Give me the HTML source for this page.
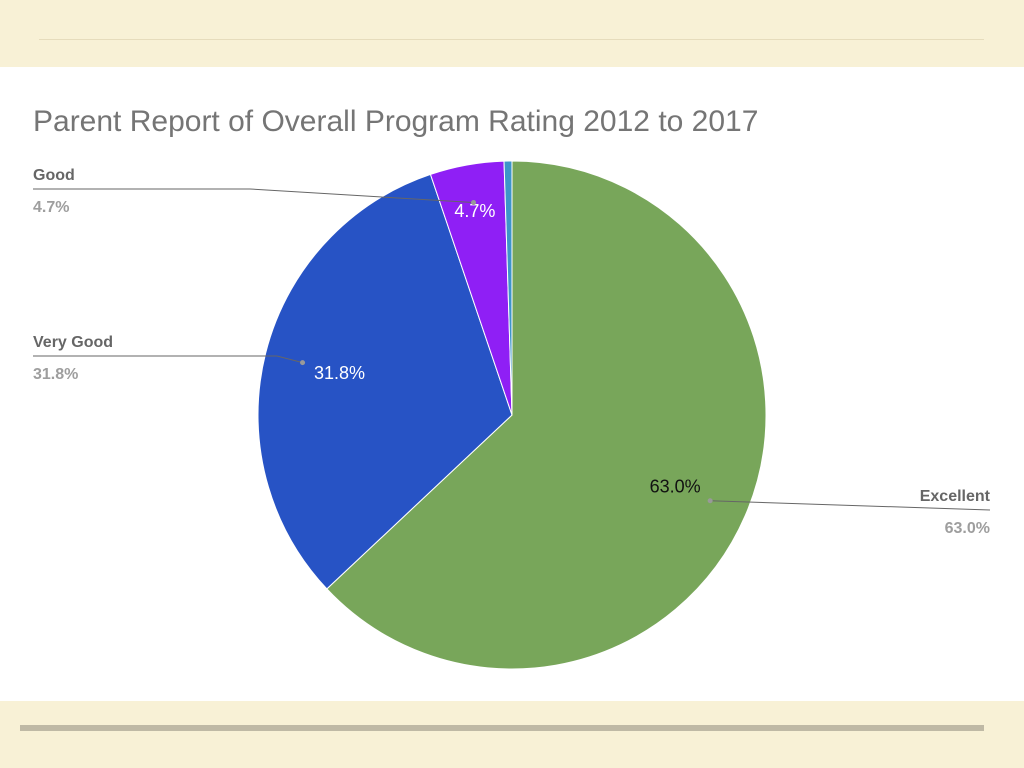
<!DOCTYPE html>
<html><head><meta charset="utf-8"><style>
body{margin:0;width:1024px;height:768px;background:#f8f1d6;font-family:"Liberation Sans",sans-serif;overflow:hidden;position:relative}
</style></head><body>
<div style="position:absolute;left:39px;top:39px;width:945px;height:1px;background:#e6dcbc"></div>
<div style="position:absolute;left:0;top:67px;width:1024px;height:634px;background:#fff"></div>
<div style="position:absolute;left:20px;top:725px;width:964px;height:6px;background:#bfb9a5"></div>
<svg id="chart" width="1024" height="768" style="position:absolute;left:0;top:0">
<text x="33" y="131" font-size="30" fill="#757575" font-family="Liberation Sans, sans-serif">Parent Report of Overall Program Rating 2012 to 2017</text>
</svg>
<script>
const categories=["Excellent","Very Good","Good","Other"];
const values=[63.0,31.8,4.7,0.5];
const colors=["#78a65a","#2753c5","#8f1ff5","#3d95c9"];
const svg=document.getElementById('chart');
const NS="http://www.w3.org/2000/svg";
const cx=512,cy=415,r=254;
const total=values.reduce((a,b)=>a+b,0);
function pt(frac,rad){const a=frac*2*Math.PI;return [cx+rad*Math.sin(a),cy-rad*Math.cos(a)];}
let acc=0;
const mids=[];
values.forEach((v,i)=>{
  const s=acc/total,e=(acc+v)/total;acc+=v;
  const p0=pt(s,r),p1=pt(e,r);
  const large=(e-s)>0.5?1:0;
  const path=document.createElementNS(NS,'path');
  path.setAttribute('d',`M${cx},${cy}L${p0[0]},${p0[1]}A${r},${r} 0 ${large} 1 ${p1[0]},${p1[1]}Z`);
  path.setAttribute('fill',colors[i]);
  path.setAttribute('stroke','#fff');path.setAttribute('stroke-width','1');
  
  
  svg.appendChild(path);
  mids.push((s+e)/2);
});
function txt(x,y,t,size,fill,anchor,weight,name){
  const el=document.createElementNS(NS,'text');
  el.setAttribute('x',x);el.setAttribute('y',y);el.setAttribute('font-size',size);
  el.setAttribute('fill',fill);el.setAttribute('text-anchor',anchor);
  if(weight)el.setAttribute('font-weight',weight);
  el.textContent=t;
  
  
  svg.appendChild(el);
}
// inside labels
[0,1,2].forEach(i=>{
  const rr=i==2?0.82*r:0.7*r;
  const p=pt(mids[i],rr);
  txt(p[0],p[1]+7,values[i].toFixed(1)+'%',18,i==0?'#111':'#fff','middle',null,'slice-value-label');
});
// outside labels
const outside=[
 {i:0,lx:[733,990],ly:510,side:'right'},
 {i:1,lx:[33,277],ly:356,side:'left'},
 {i:2,lx:[33,250],ly:189,side:'left'}
];
outside.forEach(o=>{
  const d=pt(mids[o.i],0.85*r);
  const line=document.createElementNS(NS,'polyline');
  let pts;
  if(o.side=='right')pts=`${d[0]},${d[1]} ${o.lx[1]},${o.ly}`;
  else pts=`${o.lx[0]},${o.ly} ${o.lx[1]},${o.ly} ${d[0]},${d[1]}`;
  line.setAttribute('points',pts);line.setAttribute('fill','none');
  line.setAttribute('stroke','#666');line.setAttribute('stroke-width','1');
  
  
  svg.appendChild(line);
  const c=document.createElementNS(NS,'circle');
  c.setAttribute('cx',d[0]);c.setAttribute('cy',d[1]);c.setAttribute('r',2.5);c.setAttribute('fill','#999');
  
  
  svg.appendChild(c);
  const x=o.side=='right'?990:33,a=o.side=='right'?'end':'start';
  txt(x,o.ly-9,categories[o.i],16,'#666',a,'bold','legend-label');
  txt(x,o.ly+23,values[o.i].toFixed(1)+'%',16,'#9e9e9e',a,'bold','legend-value');
});
</script>
</body></html>
